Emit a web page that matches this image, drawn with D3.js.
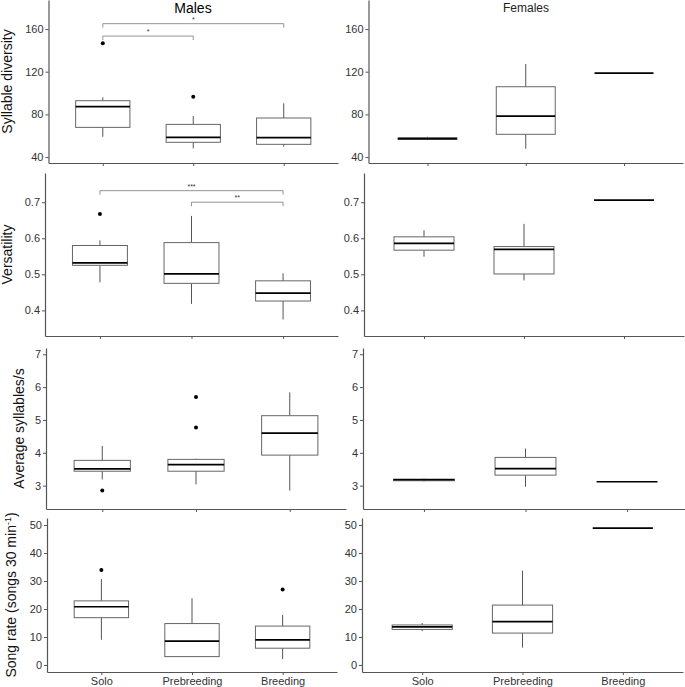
<!DOCTYPE html>
<html>
<head>
<meta charset="utf-8">
<script src="https://cdn.jsdelivr.net/npm/d3@7"></script>
<style>
  body { margin: 0; background: #fff; }
  text { font-family: "Liberation Sans", Arial, sans-serif; }
</style>
</head>
<body>
<div class="canvas"></div>
<script>
// categories
const groups = ['Solo', 'Prebreeding', 'Breeding'];

// box stats per group: [lower whisker, q1, median, q3, upper whisker]
const maleSyl = [[59, 67.8, 87.2, 92.8, 96], [48.1, 53.8, 58.5, 70.6, 78.4], [49.7, 51.9, 58.1, 76.6, 90.3]];
const maleSylOut = [[146.6], [96.5], []];
const femaleSyl = [[55.8, 56.5, 57.2, 58, 59], [47.8, 61.3, 78.4, 105.9, 127.2], [118.7, 118.7, 118.7, 118.7, 118.7]];

const maleVers = [[0.478, 0.525, 0.532, 0.58, 0.594], [0.418, 0.475, 0.501, 0.588, 0.662], [0.375, 0.426, 0.448, 0.482, 0.503]];
const maleVersOut = [[0.667], [], []];
const femaleVers = [[0.549, 0.567, 0.586, 0.604, 0.622], [0.483, 0.501, 0.569, 0.577, 0.64], [0.706, 0.706, 0.706, 0.706, 0.706]];

const maleRate = [[3.19, 3.44, 3.51, 3.77, 4.21], [3.04, 3.44, 3.64, 3.8, 3.82], [2.85, 3.93, 4.6, 5.13, 5.84]];
const maleRateOut = [[2.85], [5.7, 4.77], []];
const femaleRate = [[3.13, 3.15, 3.18, 3.2, 3.22], [2.97, 3.32, 3.52, 3.86, 4.13], [3.12, 3.12, 3.12, 3.12, 3.12]];

const maleSong = [[9.0, 16.9, 20.8, 22.9, 30.7], [3.0, 3.0, 8.5, 14.8, 23.8], [2.1, 6.0, 9.0, 13.9, 17.9]];
const maleSongOut = [[33.9], [], [27.0]];
const femaleSong = [[12.1, 12.7, 13.6, 14.3, 15.0], [6.2, 11.4, 15.5, 21.4, 33.7], [48.9, 48.9, 48.9, 48.9, 48.9]];

// significance brackets (males)
const sylSig = [{a: 'Solo', b: 'Breeding', y: 165, label: '*'}, {a: 'Solo', b: 'Prebreeding', y: 153.4, label: '*'}];
const versSig = [{a: 'Solo', b: 'Breeding', y: 0.732, label: '***'}, {a: 'Prebreeding', b: 'Breeding', y: 0.70, label: '**'}];

// tick labels
const sylTicks = [40, 80, 120, 160];
const versTicks = [0.4, 0.5, 0.6, 0.7];
const rateTicks = [3, 4, 5, 6, 7];
const songTicks = [0, 10, 20, 30, 40, 50];

const rows = [
  {title: 'Syllable diversity', top: 0, bottom: 163, domain: [34.4, 187.2], ticks: sylTicks, fmt: d3.format('d'),
   males: maleSyl, out: maleSylOut, females: femaleSyl, sig: sylSig, tx: 12, left: [48.5, 338], right: [368.5, 683]},
  {title: 'Versatility', top: 173, bottom: 336, domain: [0.329, 0.781], ticks: versTicks, fmt: d3.format('.1f'),
   males: maleVers, out: maleVersOut, females: femaleVers, sig: versSig, tx: 12, left: [45, 338], right: [364, 684]},
  {title: 'Average syllables/s', top: 348, bottom: 509, domain: [2.29, 7.19], ticks: rateTicks, fmt: d3.format('d'),
   males: maleRate, out: maleRateOut, females: femaleRate, sig: [], tx: 24, left: [46, 346], right: [363, 688]},
  {title: 'Song rate', top: 518, bottom: 672, domain: [-2.5, 52.5], ticks: songTicks, fmt: d3.format('d'),
   males: maleSong, out: maleSongOut, females: femaleSong, sig: [], tx: 16, left: [47, 337], right: [362, 683]}
];

const svg = d3.select('.canvas')
    .append('svg')
    .attr('width', 685)
    .attr('height', 687);

function drawPanel(row, range, stats, outliers, sig, showLabels) {
  const g = svg.append('g');
  const x = d3.scalePoint().domain(groups).range(range).padding(0.6);
  const y = d3.scaleLinear().domain(row.domain).range([row.bottom, row.top]);
  const bw = x.step() * 0.6;

  // y axis
  const ya = g.append('g')
      .attr('transform', `translate(${range[0]},0)`)
      .call(d3.axisLeft(y).tickValues(row.ticks).tickFormat(row.fmt).tickSize(3).tickSizeOuter(0).tickPadding(2));
  // x axis
  const xa = g.append('g')
      .attr('transform', `translate(0,${row.bottom})`)
      .call(d3.axisBottom(x).tickSize(3).tickSizeOuter(0).tickPadding(2).tickFormat(showLabels ? d => d : ''));
  [ya, xa].forEach(a => {
    a.select('.domain').attr('stroke', '#555').attr('stroke-width', 1.2);
    a.selectAll('.tick line').attr('stroke', '#555');
    a.selectAll('.tick text').attr('fill', '#333').style('font-size', '11px');
  });

  // boxes
  const boxes = g.selectAll('g.box')
      .data(stats)
      .enter()
      .append('g')
      .attr('class', 'box')
      .attr('transform', (d, i) => `translate(${x(groups[i])},0)`);

  boxes.append('line')
      .attr('y1', d => y(d[0])).attr('y2', d => y(d[1]))
      .attr('stroke', '#555').attr('stroke-width', 1);
  boxes.append('line')
      .attr('y1', d => y(d[3])).attr('y2', d => y(d[4]))
      .attr('stroke', '#555').attr('stroke-width', 1);
  boxes.append('rect')
      .attr('x', -bw / 2)
      .attr('width', bw)
      .attr('y', d => y(d[3]))
      .attr('height', d => y(d[1]) - y(d[3]))
      .attr('fill', '#fff')
      .attr('stroke', '#666')
      .attr('stroke-width', 1);
  boxes.append('line')
      .attr('x1', -bw / 2).attr('x2', bw / 2)
      .attr('y1', d => y(d[2])).attr('y2', d => y(d[2]))
      .attr('stroke', '#000').attr('stroke-width', 1.7);

  // outliers
  if (outliers) {
    outliers.forEach((pts, i) => {
      g.selectAll(null)
          .data(pts)
          .enter()
          .append('circle')
          .attr('cx', x(groups[i]))
          .attr('cy', d => y(d))
          .attr('r', 2)
          .attr('fill', '#000');
    });
  }

  // significance brackets
  sig.forEach(s => {
    const x1 = x(s.a), x2 = x(s.b), yy = y(s.y);
    g.append('path')
        .attr('d', `M${x1},${yy + 4}V${yy}H${x2}V${yy + 4}`)
        .attr('fill', 'none')
        .attr('stroke', '#888')
        .attr('stroke-width', 0.9);
    g.append('text')
        .attr('x', (x1 + x2) / 2)
        .attr('y', yy - 2)
        .attr('text-anchor', 'middle')
        .style('font-size', '7px')
        .attr('fill', '#333')
        .text(s.label);
  });
}

rows.forEach((row, i) => {
  const last = i === rows.length - 1;
  drawPanel(row, row.left, row.males, row.out, row.sig, last);
  drawPanel(row, row.right, row.females, null, [], last);

  const t = svg.append('text')
      .attr('transform', `translate(${row.tx},${(row.top + row.bottom) / 2}) rotate(-90)`)
      .attr('text-anchor', 'middle')
      .attr('fill', '#111')
      .style('font-size', '14px');
  if (last) {
    t.append('tspan').text('Song rate (songs 30 min');
    t.append('tspan').attr('baseline-shift', 'super').style('font-size', '9px').text('-1');
    t.append('tspan').text(')');
  } else {
    t.text(row.title);
  }
});

// column titles
svg.append('text')
    .attr('x', 193).attr('y', 13)
    .attr('text-anchor', 'middle')
    .style('font-size', '14px')
    .text('Males');
svg.append('text')
    .attr('x', 526).attr('y', 12)
    .attr('text-anchor', 'middle')
    .style('font-size', '12px')
    .attr('fill', '#222')
    .text('Females');
</script>
</body>
</html>
